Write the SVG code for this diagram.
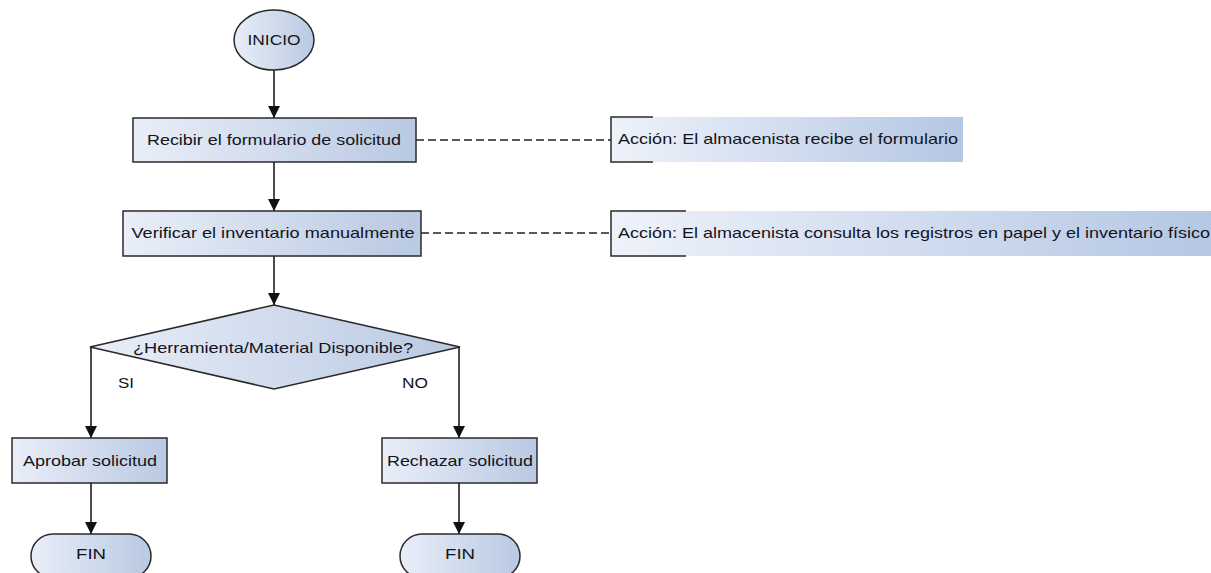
<svg xmlns="http://www.w3.org/2000/svg" width="1211" height="573" viewBox="0 0 1211 573">
  <defs>
    <linearGradient id="boxFill" x1="0" y1="0" x2="1" y2="0">
      <stop offset="0" stop-color="#e9eef8"/>
      <stop offset="1" stop-color="#b9c9e2"/>
    </linearGradient>
    <linearGradient id="noteFill" x1="0" y1="0" x2="1" y2="0">
      <stop offset="0" stop-color="#eef2fa"/>
      <stop offset="1" stop-color="#b5c7e4"/>
    </linearGradient>
    <marker id="arrow" viewBox="0 0 12 12" refX="12" refY="6" markerWidth="12" markerHeight="12" markerUnits="userSpaceOnUse" orient="auto">
      <path d="M0,0 L12,6 L0,12 Z" fill="#111"/>
    </marker>
    <style>
      .shape { fill: url(#boxFill); stroke: #2a2a2a; stroke-width: 1.5; }
      .note { fill: url(#noteFill); stroke: none; }
      .bracket { fill: none; stroke: #2a2a2a; stroke-width: 1.5; }
      .flow { fill: none; stroke: #111; stroke-width: 1.5; marker-end: url(#arrow); }
      .dash { fill: none; stroke: #222; stroke-width: 1.3; stroke-dasharray: 8 4; }
      text { font-family: "Liberation Sans", Arial, sans-serif; font-size: 14.5px; fill: #141420; }
      .c { text-anchor: middle; }
    </style>
  </defs>

  <!-- connectors -->
  <g id="connectors">
    <line class="flow" x1="274" y1="70" x2="274" y2="118"/>
    <line class="flow" x1="274" y1="162" x2="274" y2="211"/>
    <line class="flow" x1="274" y1="256" x2="274" y2="305"/>
    <polyline class="flow" points="90,347 91,347 91,438"/>
    <polyline class="flow" points="460,347 459,347 459,438"/>
    <line class="flow" x1="91" y1="483" x2="91" y2="534"/>
    <line class="flow" x1="459" y1="483" x2="459" y2="534"/>
    <line class="dash" x1="416" y1="140" x2="611" y2="140"/>
    <line class="dash" x1="421" y1="233" x2="611" y2="233"/>
  </g>

  <g id="inicio">
    <ellipse class="shape" cx="274" cy="40" rx="40" ry="30"/>
    <text class="c" x="274" y="45" textLength="53" lengthAdjust="spacingAndGlyphs">INICIO</text>
  </g>

  <g id="recibir">
    <rect class="shape" x="133" y="118" width="283" height="44"/>
    <text class="c" x="274" y="145" textLength="254" lengthAdjust="spacingAndGlyphs">Recibir el formulario de solicitud</text>
  </g>

  <g id="nota-recibir">
    <rect class="note" x="611" y="117" width="352" height="45"/>
    <path class="bracket" d="M653,117 H611 V162 H653"/>
    <text x="618" y="144" textLength="340" lengthAdjust="spacingAndGlyphs">Acción: El almacenista recibe el formulario</text>
  </g>

  <g id="verificar">
    <rect class="shape" x="123" y="211" width="298" height="45"/>
    <text class="c" x="273" y="238" textLength="283" lengthAdjust="spacingAndGlyphs">Verificar el inventario manualmente</text>
  </g>

  <g id="nota-verificar">
    <rect class="note" x="611" y="211" width="600" height="45"/>
    <path class="bracket" d="M686,211 H611 V256 H686"/>
    <text x="618" y="238" textLength="592" lengthAdjust="spacingAndGlyphs">Acción: El almacenista consulta los registros en papel y el inventario físico</text>
  </g>

  <g id="decision">
    <polygon class="shape" points="274,305 460,347 274,389 90,347"/>
    <text class="c" x="273" y="353" textLength="280" lengthAdjust="spacingAndGlyphs">¿Herramienta/Material Disponible?</text>
  </g>

  <g id="etiqueta-si">
    <text x="118" y="388" textLength="16" lengthAdjust="spacingAndGlyphs">SI</text>
  </g>
  <g id="etiqueta-no">
    <text x="402" y="388" textLength="26" lengthAdjust="spacingAndGlyphs">NO</text>
  </g>

  <g id="aprobar">
    <rect class="shape" x="12" y="438" width="155" height="45"/>
    <text class="c" x="90" y="466" textLength="134" lengthAdjust="spacingAndGlyphs">Aprobar solicitud</text>
  </g>

  <g id="rechazar">
    <rect class="shape" x="382" y="438" width="155" height="45"/>
    <text class="c" x="460" y="466" textLength="146" lengthAdjust="spacingAndGlyphs">Rechazar solicitud</text>
  </g>

  <g id="fin-aprobar">
    <rect class="shape" x="31" y="534" width="120" height="44" rx="22" ry="22"/>
    <text class="c" x="91" y="559" textLength="30" lengthAdjust="spacingAndGlyphs">FIN</text>
  </g>

  <g id="fin-rechazar">
    <rect class="shape" x="400" y="534" width="120" height="44" rx="22" ry="22"/>
    <text class="c" x="460" y="559" textLength="30" lengthAdjust="spacingAndGlyphs">FIN</text>
  </g>
</svg>
